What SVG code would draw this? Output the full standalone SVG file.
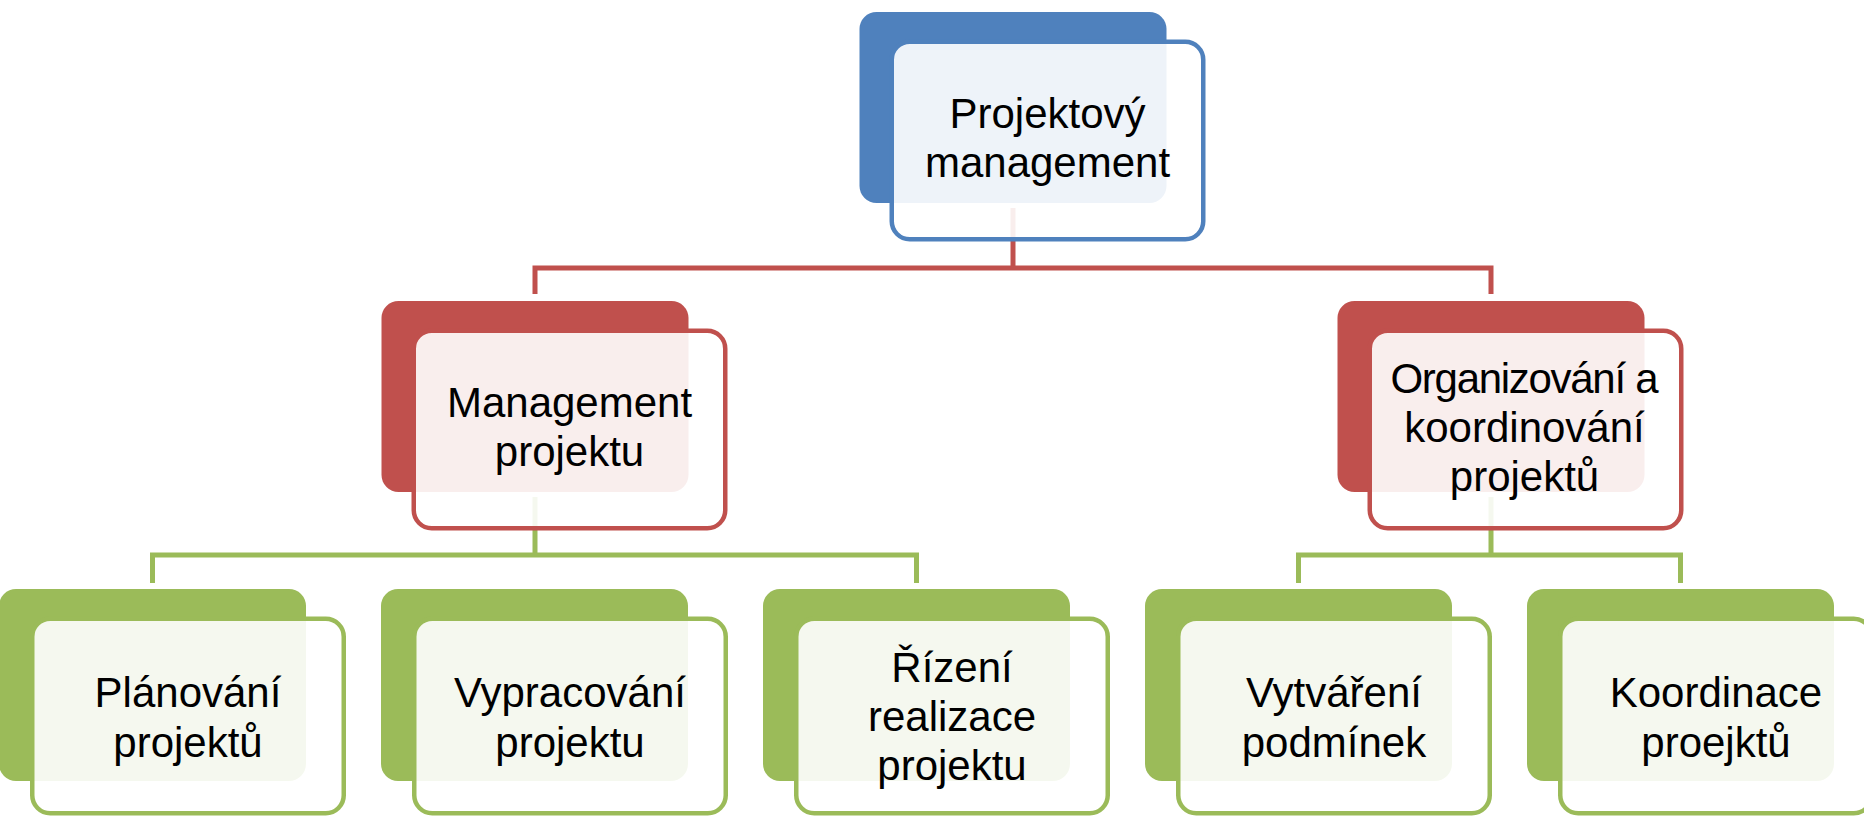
<svg xmlns="http://www.w3.org/2000/svg" width="1864" height="817" viewBox="0 0 1864 817">
<style>
.bk{stroke:none}
.fr{fill:#FFFFFF;fill-opacity:0.9;stroke-width:4.5}
.blue .bk{fill:#4F81BD}.blue .fr{stroke:#4F81BD}
.red .bk{fill:#C0504D}.red .fr{stroke:#C0504D}
.green .bk{fill:#9BBB59}.green .fr{stroke:#9BBB59}
.lbl{font-family:"Liberation Sans",Arial,sans-serif;font-size:42px;text-anchor:middle;fill:#000000}
.conn{fill:none;stroke-width:5;stroke-linejoin:miter;stroke-linecap:butt}
.cr{stroke:#C0504D}.cg{stroke:#9BBB59}
</style>
<rect width="1864" height="817" fill="#FFFFFF"/>
<g id="connectors">
<path class="conn cr" d="M1013,208 V268"/>
<path class="conn cr" d="M535,294 V268 H1491 V294"/>
<path class="conn cg" d="M535,497 V555"/>
<path class="conn cg" d="M152.5,583 V555 H916.5 V583"/>
<path class="conn cg" d="M1491,497 V555"/>
<path class="conn cg" d="M1298.5,583 V555 H1680.5 V583"/>
</g>
<g id="node-projektovy-management" class="blue">
<rect class="bk" x="859.5" y="12" width="307" height="191" rx="17"/>
<rect class="fr" x="891.75" y="41.75" width="311.5" height="197.5" rx="18"/>
<text class="lbl" x="1047.5" y="127.5">Projektový</text>
<text class="lbl" x="1047.5" y="176.5">management</text>
</g>
<g id="node-management-projektu" class="red">
<rect class="bk" x="381.5" y="301" width="307" height="191" rx="17"/>
<rect class="fr" x="413.75" y="330.75" width="311.5" height="197.5" rx="18"/>
<text class="lbl" x="569.5" y="416.5">Management</text>
<text class="lbl" x="569.5" y="465.5">projektu</text>
</g>
<g id="node-organizovani" class="red">
<rect class="bk" x="1337.5" y="301" width="307" height="191" rx="17"/>
<rect class="fr" x="1369.75" y="330.75" width="311.5" height="197.5" rx="18"/>
<text class="lbl" x="1524.5" y="393" textLength="268">Organizování a</text>
<text class="lbl" x="1524.5" y="442">koordinování</text>
<text class="lbl" x="1524.5" y="490.5">projektů</text>
</g>
<g id="node-planovani" class="green">
<rect class="bk" x="-1" y="589" width="307" height="192" rx="17"/>
<rect class="fr" x="32.25" y="618.75" width="311.5" height="194.5" rx="18"/>
<text class="lbl" x="188" y="707">Plánování</text>
<text class="lbl" x="188" y="756.5">projektů</text>
</g>
<g id="node-vypracovani" class="green">
<rect class="bk" x="381" y="589" width="307" height="192" rx="17"/>
<rect class="fr" x="414.25" y="618.75" width="311.5" height="194.5" rx="18"/>
<text class="lbl" x="570" y="707">Vypracování</text>
<text class="lbl" x="570" y="756.5">projektu</text>
</g>
<g id="node-rizeni" class="green">
<rect class="bk" x="763" y="589" width="307" height="192" rx="17"/>
<rect class="fr" x="796.25" y="618.75" width="311.5" height="194.5" rx="18"/>
<text class="lbl" x="952" y="682">Řízení</text>
<text class="lbl" x="952" y="731">realizace</text>
<text class="lbl" x="952" y="780">projektu</text>
</g>
<g id="node-vytvareni" class="green">
<rect class="bk" x="1145" y="589" width="307" height="192" rx="17"/>
<rect class="fr" x="1178.25" y="618.75" width="311.5" height="194.5" rx="18"/>
<text class="lbl" x="1334" y="707">Vytváření</text>
<text class="lbl" x="1334" y="756.5">podmínek</text>
</g>
<g id="node-koordinace" class="green">
<rect class="bk" x="1527" y="589" width="307" height="192" rx="17"/>
<rect class="fr" x="1560.25" y="618.75" width="311.5" height="194.5" rx="18"/>
<text class="lbl" x="1716" y="707">Koordinace</text>
<text class="lbl" x="1716" y="756.5">proejktů</text>
</g>
</svg>
